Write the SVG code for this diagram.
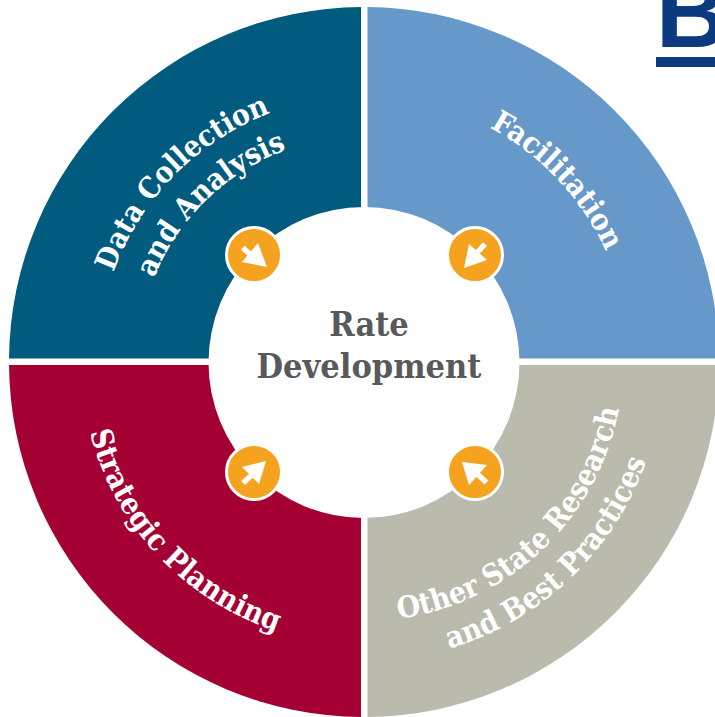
<svg xmlns="http://www.w3.org/2000/svg" width="715" height="717" viewBox="0 0 715 717">
<style>
.lbl{font-family:"DejaVu Serif","Liberation Serif",serif;font-stretch:condensed;font-weight:700;font-size:30px;fill:#fff;text-anchor:middle}
.ctr{font-family:"DejaVu Serif","Liberation Serif",serif;font-stretch:condensed;font-weight:700;font-size:34px;fill:#58595b;text-anchor:middle}
.dot{fill:#f5a31f;stroke:#fff;stroke-width:3}
.head{fill:#fff}
.shaft{stroke:#fff;stroke-width:5.5;fill:none}
</style>
<defs>
<path id="p1" d="M98 362A266 266 0 0 1 364 96"/>
<path id="p2" d="M138 362A226 226 0 0 1 364 136"/>
<path id="p3" d="M364 96A266 266 0 0 1 630 362"/>
<path id="p4" d="M81 362A283 283 0 0 0 364 645"/>
<path id="p5" d="M364 621A259 259 0 0 0 623 362"/>
<path id="p6" d="M364 661A299 299 0 0 0 663 362"/>
</defs>
<rect width="715" height="717" fill="#fff"/>
<g id="logo">
<text x="655.700" y="47" font-family="Liberation Sans,sans-serif" font-weight="700" font-size="100" fill="#0b3a7e">B</text>
<rect x="656" y="57" width="59" height="10" fill="#0b3a7e"/>
</g>
<g id="data-collection">
<path d="M361 358.500H9A355 355 0 0 1 361 7Z" fill="#005b7f"/>
<text class="lbl" style="font-size:29.500px"><textPath href="#p1" startOffset="49.500%">Data Collection</textPath></text>
<text class="lbl"><textPath href="#p2" startOffset="51%">and Analysis</textPath></text>
</g>
<g id="facilitation">
<path d="M367.500 358.500H719A355 355 0 0 0 367.500 7Z" fill="#6699c9"/>
<text class="lbl"><textPath href="#p3" startOffset="52%">Facilitation</textPath></text>
</g>
<g id="strategic-planning">
<path d="M361 365H9A355 355 0 0 0 361 717Z" fill="#a50034"/>
<text class="lbl"><textPath href="#p4" startOffset="48%">Strategic Planning</textPath></text>
</g>
<g id="other-state">
<path d="M367.500 365H719A355 355 0 0 1 367.500 717Z" fill="#bbbbad"/>
<text class="lbl"><textPath href="#p5" startOffset="48.500%">Other State Research</textPath></text>
<text class="lbl"><textPath href="#p6" startOffset="48.500%">and Best Practices</textPath></text>
</g>
<g id="rate-development">
<circle cx="364" cy="362.500" r="155.500" fill="#fff"/>
<text class="ctr" x="369" y="336">Rate</text>
<text class="ctr" x="369" y="378">Development</text>
</g>
<g id="connectors">
<g><circle class="dot" cx="254" cy="255" r="27.500"/><path class="shaft" d="M242.700 247.700L254 258"/><path class="head" d="M267 267L242 262L258 243Z"/></g>
<g><circle class="dot" cx="475" cy="255" r="27.500"/><path class="shaft" d="M485 244L474 256"/><path class="head" d="M464 268L469 244L487 260Z"/></g>
<g><circle class="dot" cx="254" cy="472" r="27.500"/><path class="shaft" d="M243 483L254 473"/><path class="head" d="M266 461L242 467L259 484Z"/></g>
<g><circle class="dot" cx="475" cy="472" r="27.500"/><path class="shaft" d="M486.500 482.500L474 471"/><path class="head" d="M462 462L487 465L469 485Z"/></g>
</g>
</svg>
